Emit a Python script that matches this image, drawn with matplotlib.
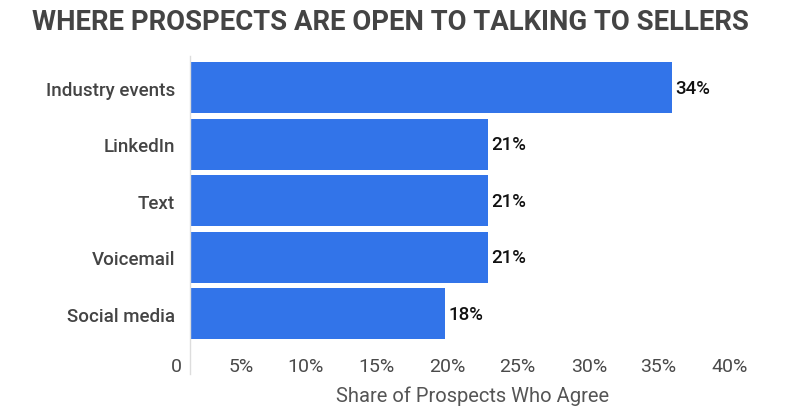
import matplotlib
matplotlib.use("Agg")
import matplotlib.pyplot as plt
from matplotlib.lines import Line2D

categories = ["Industry events", "LinkedIn", "Text", "Voicemail", "Social media"]
values = [34, 21, 21, 21, 18]
value_labels = ["34%", "21%", "21%", "21%", "18%"]
tick_labels = ["0", "5%", "10%", "15%", "20%", "25%", "30%", "35%", "40%"]
# label positions as they appear in the reference (data units)
tick_positions = [-0.99, 3.58, 8.12, 13.13, 18.14, 23.08, 28.16, 33.07, 38.1]

title = "WHERE PROSPECTS ARE OPEN TO TALKING TO SELLERS"
xlabel = "Share of Prospects Who Agree"

plt.rcParams['font.family'] = ['Roboto', 'DejaVu Sans']

W, H = 800, 414
scale = 14.17  # px per data unit
zero_px = 190
xmin = -1.0
left_px = zero_px + xmin * scale
right_px, top_px, bot_px = 760, 57, 346.5
fig = plt.figure(figsize=(W / 100, H / 100), dpi=100)
ax = fig.add_axes([left_px / W, 1 - bot_px / H, (right_px - left_px) / W, (bot_px - top_px) / H])

bar_color = "#3274E9"
y = list(range(len(categories)))
ax.barh(y, values, height=0.9, color=bar_color, zorder=2)

for yi, v, lab in zip(y, values, value_labels):
    ax.annotate(lab, (v, yi), xytext=(2.5, 0), textcoords="offset points",
                ha="left", va="center", fontsize=13.5, color="#111111", fontweight="medium")

ax.set_yticks(y)
ax.set_yticklabels(categories, fontsize=13.5, color="#444444", fontweight="medium")
ax.tick_params(axis="y", length=0, pad=0.5)
ax.set_xticks(tick_positions)
ax.set_xticklabels(tick_labels, fontsize=14, color="#4a4a4a")
ax.tick_params(axis="x", length=0, pad=8)
ax.set_xlim(xmin, (right_px - zero_px) / scale)
ax.set_ylim(len(categories) - 1 + 0.557, -0.557)

for s in ax.spines.values():
    s.set_visible(False)
ax.add_line(Line2D([0, 0], [1, -(375 - bot_px) / (bot_px - top_px)],
                   transform=ax.get_xaxis_transform(), color="#dddddd", lw=1, clip_on=False))

ax.set_xlabel(xlabel, fontsize=14.5, color="#555555")
ax.xaxis.set_label_coords((472.5 - left_px) / (right_px - left_px),
                          -(402.3 - bot_px) / (bot_px - top_px))
ax.xaxis.label.set_va("baseline")
fig.text(390.5 / W, 1 - 22 / H, title, ha="center", va="center", fontsize=19.8,
         fontweight="bold", color="#444444")

fig.savefig("out.png", dpi=100)
